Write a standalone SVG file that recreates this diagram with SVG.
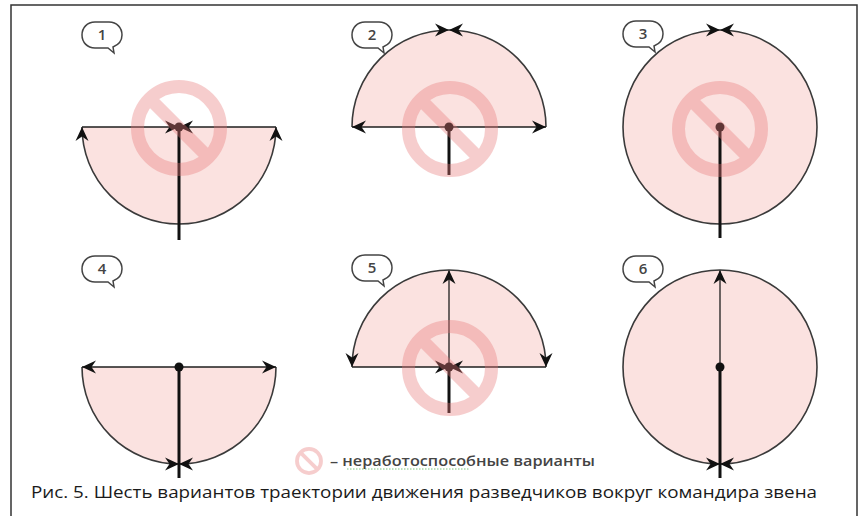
<svg xmlns="http://www.w3.org/2000/svg" width="858" height="516" viewBox="0 0 858 516">
<style>
.fill{fill:#fbe2e0;stroke:none}
.arc{fill:none;stroke:#3a3a3a;stroke-width:1.6}
.hl{fill:none;stroke:#1e1e1e;stroke-width:1.6}
.thin{fill:none;stroke:#1e1e1e;stroke-width:1.3}
.thick{fill:none;stroke:#111;stroke-width:3}
.dot{fill:#111}
.bub{fill:#fff;stroke:#444;stroke-width:1.5}
.num{font-family:"Open Sans","DejaVu Sans",sans-serif;font-size:15px;font-weight:600;fill:#444;text-anchor:middle}
.no{opacity:0.36}
</style>
<defs>
<marker id="ah" viewBox="0 -7 14 14" refX="14" refY="0" markerWidth="14" markerHeight="14" markerUnits="userSpaceOnUse" orient="auto">
<path d="M0,-6.5 L14,0 L0,6.5 L4.5,0 Z" fill="#111"/>
</marker>
<path id="bubble" d="M13,0 H27 C35,0 40,6 40,13 C40,19 36,23 31,25 L32,31 L26,26 H13 C5,26 0,20 0,13 C0,6 5,0 13,0 Z"/>
<g id="nosign">
<circle cx="0" cy="0" r="41.5" fill="none" stroke="#e87878" stroke-width="13"/>
<line x1="-29" y1="-29" x2="29" y2="29" stroke="#e87878" stroke-width="13"/>
</g>
</defs>
<rect x="0" y="0" width="858" height="516" fill="#fff"/>
<path d="M11,516 V5 H857 V516" fill="none" stroke="#333" stroke-width="1.5"/>

<g id="panel1">
<path class="fill" d="M82,127 A97,97 0 0 0 276,127 Z"/>
<g id="connectors1">
<path class="arc" d="M179,224 A97,97 0 0 1 82,127" marker-end="url(#ah)"/>
<path class="arc" d="M179,224 A97,97 0 0 0 276,127" marker-end="url(#ah)"/>
<path class="hl" d="M82,127 H179" marker-end="url(#ah)"/>
<path class="hl" d="M276,127 H179" marker-end="url(#ah)"/>
<path class="thick" d="M179,127 V240"/>
</g>
<circle class="dot" cx="179" cy="127" r="4.5"/>
<use href="#bubble" class="bub" x="82" y="22"/>
<text class="num" x="102" y="40" font-family="Liberation Serif,serif">1</text>
<g class="no" transform="translate(179,128)"><use href="#nosign"/></g>
</g>

<g id="panel2">
<path class="fill" d="M352,127 A97,97 0 0 1 546,127 Z"/>
<g id="connectors2">
<path class="arc" d="M352,127 A97,97 0 0 1 449,30" marker-end="url(#ah)"/>
<path class="arc" d="M546,127 A97,97 0 0 0 449,30" marker-end="url(#ah)"/>
<path class="hl" d="M449,127 H352" marker-end="url(#ah)"/>
<path class="hl" d="M449,127 H546" marker-end="url(#ah)"/>
<path class="thick" d="M449,127 V175"/>
</g>
<circle class="dot" cx="449" cy="127" r="4.5"/>
<use href="#bubble" class="bub" x="352" y="22"/>
<text class="num" x="372" y="40">2</text>
<g class="no" transform="translate(450,129)"><use href="#nosign"/></g>
</g>

<g id="panel3">
<circle class="fill" cx="720" cy="127" r="97"/>
<g id="connectors3">
<path class="arc" d="M720,224 A97,97 0 0 1 623,127 A97,97 0 0 1 720,30" marker-end="url(#ah)"/>
<path class="arc" d="M720,224 A97,97 0 0 0 817,127 A97,97 0 0 0 720,30" marker-end="url(#ah)"/>
<path class="thick" d="M720,127 V238"/>
</g>
<circle class="dot" cx="720" cy="127" r="4.5"/>
<use href="#bubble" class="bub" x="623" y="21"/>
<text class="num" x="643" y="39">3</text>
<g class="no" transform="translate(720,129)"><use href="#nosign"/></g>
</g>

<g id="panel4">
<path class="fill" d="M82,367 A97,97 0 0 0 276,367 Z"/>
<g id="connectors4">
<path class="arc" d="M82,367 A97,97 0 0 0 179,464" marker-end="url(#ah)"/>
<path class="arc" d="M276,367 A97,97 0 0 1 179,464" marker-end="url(#ah)"/>
<path class="hl" d="M179,367 H82" marker-end="url(#ah)"/>
<path class="hl" d="M179,367 H276" marker-end="url(#ah)"/>
<path class="thick" d="M179,367 V478"/>
</g>
<circle class="dot" cx="179" cy="367" r="4.5"/>
<use href="#bubble" class="bub" x="82" y="256"/>
<text class="num" x="102" y="274">4</text>
</g>

<g id="panel5">
<path class="fill" d="M352,367 A97,97 0 0 1 546,367 Z"/>
<g id="connectors5">
<path class="thin" d="M449,367 V270" marker-end="url(#ah)"/>
<path class="arc" d="M449,270 A97,97 0 0 0 352,367" marker-end="url(#ah)"/>
<path class="arc" d="M449,270 A97,97 0 0 1 546,367" marker-end="url(#ah)"/>
<path class="hl" d="M352,367 H449" marker-end="url(#ah)"/>
<path class="hl" d="M546,367 H449" marker-end="url(#ah)"/>
<path class="thick" d="M449,367 V413"/>
</g>
<circle class="dot" cx="449" cy="367" r="4.5"/>
<use href="#bubble" class="bub" x="352" y="255"/>
<text class="num" x="372" y="273">5</text>
<g class="no" transform="translate(450,368)"><use href="#nosign"/></g>
</g>

<g id="panel6">
<circle class="fill" cx="720" cy="367" r="97"/>
<g id="connectors6">
<path class="thin" d="M720,367 V270" marker-end="url(#ah)"/>
<path class="arc" d="M720,270 A97,97 0 0 0 623,367 A97,97 0 0 0 720,464" marker-end="url(#ah)"/>
<path class="arc" d="M720,270 A97,97 0 0 1 817,367 A97,97 0 0 1 720,464" marker-end="url(#ah)"/>
<path class="thick" d="M720,367 V478"/>
</g>
<circle class="dot" cx="720" cy="367" r="4.5"/>
<use href="#bubble" class="bub" x="623" y="256"/>
<text class="num" x="643" y="274">6</text>
</g>

<g id="legend">
<g class="no" transform="translate(309,461) scale(0.29)"><use href="#nosign"/></g>
<line x1="347" y1="469" x2="470" y2="469" stroke="#7cc47f" stroke-width="1" stroke-dasharray="1.5,1.5"/>
<text x="330" y="466" font-family="Open Sans,DejaVu Sans,sans-serif" font-size="14" font-weight="600" fill="#444" textLength="265" lengthAdjust="spacingAndGlyphs">– неработоспособные варианты</text>
</g>

<text id="caption" x="31" y="498" font-family="Open Sans,DejaVu Sans,sans-serif" font-size="17" fill="#1a1a1a" textLength="786" lengthAdjust="spacingAndGlyphs">Рис. 5. Шесть вариантов траектории движения разведчиков вокруг командира звена</text>
</svg>
